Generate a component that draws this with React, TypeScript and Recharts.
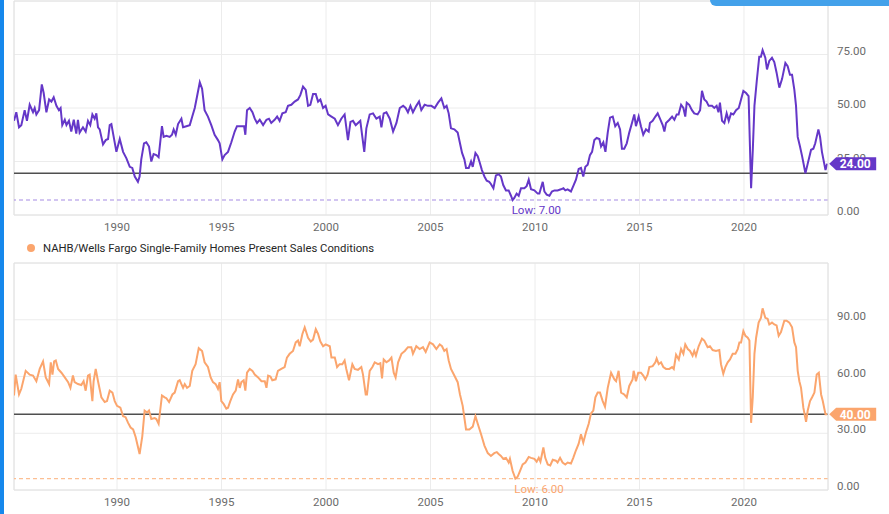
import { LineChart, Line, XAxis, YAxis, CartesianGrid, ReferenceLine, ReferenceDot } from "recharts";

// NAHB traffic-style index (top, purple) — decimal years and values
const purpleYears = [
  1985.07, 1985.18, 1985.31, 1985.42, 1985.58, 1985.69, 1985.82, 1985.98, 1986.06, 1986.14, 1986.27, 1986.4, 1986.49,
  1986.62, 1986.75, 1986.86, 1986.97, 1987.1, 1987.22, 1987.3, 1987.38, 1987.5, 1987.58, 1987.7, 1987.81, 1987.93,
  1988.05, 1988.13, 1988.21, 1988.37, 1988.5, 1988.61, 1988.72, 1988.82, 1988.93, 1989.01, 1989.09, 1989.17, 1989.33,
  1989.46, 1989.57, 1989.65, 1989.73, 1989.84, 1989.97, 1990.13, 1990.29, 1990.45, 1990.61, 1990.73, 1990.85, 1991.0,
  1991.08, 1991.16, 1991.29, 1991.4, 1991.53, 1991.64, 1991.75, 1991.88, 1991.99, 1992.15, 1992.23, 1992.36, 1992.52,
  1992.63, 1992.71, 1992.81, 1992.92, 1993.08, 1993.16, 1993.32, 1993.48, 1993.6, 1993.72, 1993.83, 1993.96, 1994.07,
  1994.19, 1994.35, 1994.51, 1994.67, 1994.83, 1994.91, 1995.04, 1995.15, 1995.31, 1995.47, 1995.63, 1995.74, 1995.87,
  1996.08, 1996.14, 1996.22, 1996.35, 1996.48, 1996.59, 1996.7, 1996.83, 1996.99, 1997.15, 1997.27, 1997.38, 1997.54,
  1997.66, 1997.78, 1997.91, 1998.07, 1998.18, 1998.34, 1998.5, 1998.66, 1998.77, 1998.9, 1999.03, 1999.14, 1999.25,
  1999.38, 1999.51, 1999.62, 1999.73, 1999.86, 1999.98, 2000.1, 2000.26, 2000.42, 2000.57, 2000.73, 2000.89, 2001.05,
  2001.17, 2001.29, 2001.42, 2001.53, 2001.64, 2001.83, 2001.93, 2002.09, 2002.25, 2002.41, 2002.57, 2002.65, 2002.76,
  2002.89, 2003.05, 2003.21, 2003.37, 2003.53, 2003.69, 2003.81, 2003.92, 2004.04, 2004.16, 2004.32, 2004.45, 2004.56,
  2004.72, 2004.88, 2005.04, 2005.2, 2005.36, 2005.52, 2005.66, 2005.77, 2005.87, 2005.98, 2006.14, 2006.3, 2006.41,
  2006.51, 2006.62, 2006.7, 2006.83, 2006.94, 2007.02, 2007.15, 2007.26, 2007.34, 2007.46, 2007.58, 2007.69, 2007.81,
  2007.89, 2008.01, 2008.13, 2008.26, 2008.37, 2008.48, 2008.61, 2008.74, 2008.85, 2008.93, 2009.01, 2009.12, 2009.22,
  2009.33, 2009.49, 2009.6, 2009.7, 2009.81, 2009.97, 2010.13, 2010.21, 2010.37, 2010.45, 2010.56, 2010.69, 2010.81,
  2010.93, 2011.08, 2011.24, 2011.36, 2011.45, 2011.56, 2011.72, 2011.83, 2011.96, 2012.09, 2012.2, 2012.31, 2012.41,
  2012.52, 2012.63, 2012.73, 2012.84, 2012.95, 2013.08, 2013.16, 2013.27, 2013.37, 2013.48, 2013.59, 2013.72, 2013.84,
  2013.96, 2014.07, 2014.16, 2014.27, 2014.39, 2014.51, 2014.64, 2014.75, 2014.83, 2014.96, 2015.07, 2015.18, 2015.31,
  2015.44, 2015.5, 2015.63, 2015.76, 2015.87, 2015.98, 2016.11, 2016.19, 2016.27, 2016.43, 2016.56, 2016.67, 2016.78,
  2016.87, 2016.99, 2017.1, 2017.19, 2017.26, 2017.38, 2017.51, 2017.62, 2017.78, 2017.9, 2017.99, 2018.1, 2018.21,
  2018.31, 2018.47, 2018.58, 2018.69, 2018.78, 2018.85, 2018.95, 2019.06, 2019.17, 2019.27, 2019.38, 2019.49, 2019.62,
  2019.75, 2019.86, 2019.97, 2020.1, 2020.22, 2020.34, 2020.42, 2020.5, 2020.61, 2020.73, 2020.81, 2020.89, 2021.02,
  2021.1, 2021.21, 2021.34, 2021.45, 2021.56, 2021.69, 2021.82, 2021.98, 2022.09, 2022.2, 2022.3, 2022.41, 2022.49,
  2022.57, 2022.68, 2022.78, 2022.94, 2023.05, 2023.21, 2023.32, 2023.41, 2023.56, 2023.64, 2023.73, 2023.84, 2023.9,
  2023.98,
];
const purpleValues = [
  44, 48, 41, 42, 49, 44, 51.5, 48, 50, 47, 49, 61, 57,
  48, 54, 53, 55, 51, 49, 50, 42, 44.5, 42, 44, 39, 44.5,
  38, 44.5, 38.5, 41, 39, 44, 42, 47, 45, 47.5, 41, 40, 33,
  35, 35.5, 42, 42.5, 36.5, 29.5, 35.5, 29.5, 26.5, 22.5, 22, 18, 15.5,
  18, 26, 33.5, 34, 32, 25, 28.5, 28, 27, 41.5, 36.5, 37, 36.5,
  37.5, 40, 37.5, 42.5, 45, 41, 41.5, 42, 46, 50, 55.5, 62, 59,
  49, 46, 42, 37.5, 35, 33.5, 26, 28, 29.5, 34, 39, 41.5, 41.5,
  41.5, 37.5, 49, 50, 48, 45, 43, 44.5, 42, 44.5, 45, 43, 44.5,
  46, 44, 47.5, 48, 51, 51.5, 53, 54, 56, 60, 58.5, 51, 51.5,
  56.5, 56.5, 53, 54, 50, 51, 47, 46, 45, 42, 45, 47, 35,
  43.5, 44, 42, 43, 44, 29.5, 40.5, 47, 47.5, 45, 46, 41, 47.5,
  48, 45, 39, 43, 50, 51, 50, 48, 51, 48, 51, 53, 49,
  51.5, 51, 51, 50, 52.5, 54.5, 50, 51, 47.5, 40.5, 40, 38.5, 33.5,
  29, 26, 22, 22, 25, 22.5, 29, 27.5, 25, 21, 18, 16, 15.5,
  14.5, 12.5, 18.5, 19, 18, 14, 11.5, 11.5, 9, 7, 8, 10, 9,
  12.5, 12.5, 13.5, 16.5, 12, 11.5, 10, 10, 15.5, 11, 9.5, 9, 11,
  11.5, 11.5, 12, 12.5, 11.5, 12, 11, 13.5, 16.5, 21.5, 22, 18, 22.5,
  23.5, 28, 29.5, 35, 36, 35.5, 32, 34, 29.5, 38.5, 45.5, 46, 41.5,
  43, 40, 31, 31, 33.5, 38.5, 43, 47, 41.5, 46, 41.5, 37.5, 40,
  39, 43, 44, 46, 47.5, 45, 42, 39, 43, 44.5, 46, 44.5, 47,
  47, 51.5, 50, 46, 52.5, 51.5, 49, 47.5, 47, 49, 58, 54, 53,
  51, 51, 50, 51, 48, 52.5, 44, 43, 47.5, 44, 47.5, 47, 49,
  50, 54, 58, 57, 55.5, 12.5, 30, 51, 62.5, 74, 74, 77, 73.5,
  68, 72, 73.5, 71.5, 66.5, 59.5, 63.5, 71, 69.5, 65.5, 65.5, 58.5, 51,
  36.5, 32, 27.5, 19.5, 24, 30.5, 31, 33.5, 40, 36.5, 29.5, 24, 21,
  24,
];

// NAHB/Wells Fargo Single-Family Homes Present Sales Conditions (bottom, orange)
const orangeYears = [
  1985.07, 1985.15, 1985.31, 1985.42, 1985.63, 1985.82, 1985.98, 1986.14, 1986.3, 1986.46, 1986.59, 1986.75, 1986.83,
  1986.91, 1986.99, 1987.07, 1987.18, 1987.34, 1987.5, 1987.66, 1987.77, 1987.89, 1987.97, 1988.13, 1988.29, 1988.4,
  1988.5, 1988.61, 1988.69, 1988.82, 1988.88, 1988.98, 1989.09, 1989.25, 1989.41, 1989.52, 1989.65, 1989.78, 1989.89,
  1990.0, 1990.16, 1990.29, 1990.41, 1990.53, 1990.65, 1990.77, 1990.89, 1991.08, 1991.21, 1991.32, 1991.44, 1991.53,
  1991.64, 1991.8, 1991.88, 1991.99, 1992.15, 1992.28, 1992.36, 1992.49, 1992.65, 1992.76, 1992.92, 1993.0, 1993.08,
  1993.16, 1993.24, 1993.35, 1993.48, 1993.6, 1993.76, 1993.91, 1994.07, 1994.19, 1994.35, 1994.48, 1994.59, 1994.72,
  1994.83, 1994.91, 1994.99, 1995.1, 1995.23, 1995.31, 1995.42, 1995.55, 1995.68, 1995.79, 1995.87, 1995.95, 1996.06,
  1996.14, 1996.22, 1996.35, 1996.48, 1996.59, 1996.75, 1996.91, 1997.07, 1997.15, 1997.23, 1997.34, 1997.43, 1997.59,
  1997.7, 1997.86, 1998.02, 1998.13, 1998.26, 1998.42, 1998.55, 1998.66, 1998.74, 1998.87, 1998.98, 1999.14, 1999.27,
  1999.38, 1999.51, 1999.62, 1999.73, 1999.86, 1999.98, 2000.18, 2000.26, 2000.42, 2000.53, 2000.65, 2000.78, 2000.89,
  2000.97, 2001.1, 2001.26, 2001.37, 2001.53, 2001.69, 2001.77, 2001.9, 2001.96, 2002.09, 2002.22, 2002.33, 2002.49,
  2002.6, 2002.68, 2002.76, 2002.89, 2003.02, 2003.13, 2003.24, 2003.33, 2003.45, 2003.61, 2003.77, 2003.92, 2004.08,
  2004.16, 2004.32, 2004.48, 2004.64, 2004.77, 2004.96, 2005.12, 2005.28, 2005.44, 2005.55, 2005.66, 2005.77, 2005.87,
  2005.98, 2006.14, 2006.3, 2006.41, 2006.54, 2006.7, 2006.86, 2007.02, 2007.15, 2007.26, 2007.42, 2007.58, 2007.74,
  2007.89, 2008.05, 2008.17, 2008.26, 2008.37, 2008.48, 2008.61, 2008.74, 2008.8, 2008.93, 2009.06, 2009.17, 2009.28,
  2009.41, 2009.54, 2009.7, 2009.81, 2009.97, 2010.08, 2010.18, 2010.26, 2010.4, 2010.49, 2010.61, 2010.73, 2010.85,
  2011.0, 2011.08, 2011.2, 2011.32, 2011.45, 2011.56, 2011.72, 2011.83, 2011.96, 2012.09, 2012.2, 2012.31, 2012.44,
  2012.57, 2012.68, 2012.79, 2012.89, 2013.0, 2013.11, 2013.24, 2013.35, 2013.48, 2013.64, 2013.8, 2013.88, 2014.0,
  2014.12, 2014.27, 2014.39, 2014.51, 2014.67, 2014.72, 2014.83, 2014.94, 2015.07, 2015.18, 2015.28, 2015.39, 2015.47,
  2015.63, 2015.76, 2015.82, 2015.92, 2016.03, 2016.14, 2016.27, 2016.43, 2016.56, 2016.64, 2016.75, 2016.88, 2016.99,
  2017.1, 2017.19, 2017.31, 2017.42, 2017.54, 2017.62, 2017.7, 2017.83, 2017.99, 2018.1, 2018.26, 2018.37, 2018.5,
  2018.66, 2018.82, 2018.9, 2019.01, 2019.11, 2019.22, 2019.33, 2019.46, 2019.59, 2019.7, 2019.78, 2019.86, 2019.97,
  2020.07, 2020.18, 2020.26, 2020.34, 2020.42, 2020.5, 2020.58, 2020.7, 2020.81, 2020.89, 2021.02, 2021.13, 2021.21,
  2021.34, 2021.45, 2021.56, 2021.66, 2021.77, 2021.93, 2022.04, 2022.17, 2022.3, 2022.41, 2022.49, 2022.57, 2022.65,
  2022.73, 2022.84, 2022.97, 2023.05, 2023.16, 2023.26, 2023.37, 2023.48, 2023.58, 2023.69, 2023.77, 2023.9, 2023.98,
];
const orangeValues = [
  50, 61, 50.5, 53.5, 63, 61, 60.5, 57.5, 64, 68, 59.5, 56, 67.5,
  61, 68, 68.5, 64, 62, 59.5, 57, 54, 60.5, 57, 56, 55.5, 57.5,
  52.5, 60.5, 61, 47, 57.5, 64, 57.5, 49, 46.5, 47, 52.5, 51.5, 47,
  44.5, 43.5, 39, 38.5, 35.5, 33, 32, 28, 19, 28.5, 42, 41, 42,
  37.5, 38, 37.5, 35, 50, 49, 48.5, 46.5, 50.5, 51.5, 57.5, 58, 56,
  54, 56, 54, 55, 63, 66.5, 75, 73.5, 67.5, 65, 59.5, 57, 56,
  53.5, 57, 47, 45.5, 43, 43.5, 47, 50.5, 52.5, 58.5, 54, 57, 58,
  52.5, 62, 64, 63, 61, 59.5, 57.5, 57.5, 54, 60.5, 60, 58, 58.5,
  63, 64, 65, 70, 72, 73.5, 78, 79, 76, 82.5, 86, 80.5, 78.5,
  79.5, 85, 82.5, 78.5, 76, 77, 76, 70, 70, 65, 66.5, 66.5, 68.5,
  64, 58, 66.5, 64, 63.5, 65, 61, 50.5, 50.5, 63, 65, 67.5, 66.5,
  67, 59, 69, 67.5, 68.5, 70, 62, 59.5, 67.5, 72, 73.5, 75.5, 75.5,
  72, 76, 74.5, 75.5, 73, 78, 77, 74.5, 77, 76, 73.5, 74.5, 68.5,
  64, 60.5, 57, 50.5, 44.5, 32, 32, 33.5, 39, 35, 29.5, 23.5, 19.5,
  18, 19.5, 20, 19, 18, 16.5, 17, 14.5, 16.5, 10, 6, 7, 10,
  13.5, 14.5, 17.5, 17, 16.5, 15, 17, 15, 22.5, 17, 13.5, 13, 16,
  15.5, 14.5, 17, 14.5, 13.5, 14.5, 14, 17, 21, 24.5, 29.5, 25, 30.5,
  35, 40.5, 42, 49, 51.5, 51.5, 47, 44, 54, 62, 58.5, 57.5, 63,
  51.5, 50.5, 49, 55, 58.5, 63, 57.5, 62, 62, 60.5, 58.5, 61, 65,
  65.5, 67.5, 69.5, 66.5, 67.5, 65, 64, 64, 65, 64, 71.5, 69, 74.5,
  72, 77, 74.5, 73.5, 71, 73.5, 71, 76, 80, 79, 75.5, 76, 74,
  73.5, 74, 66.5, 61.5, 65, 67.5, 69, 72, 72, 74.5, 78, 78, 84,
  81.5, 80.5, 79, 35.5, 49, 72, 80.5, 88.5, 91, 96, 91, 90.5, 87.5,
  88.5, 87.5, 87, 81.5, 83.5, 89.5, 89.5, 88.5, 86, 78, 75.5, 63, 57.5,
  54, 43.5, 36, 42, 47, 49, 51.5, 61, 62, 50.5, 47, 40, 40,
];

const xTicks = [1990, 1995, 2000, 2005, 2010, 2015, 2020];
const topTicks = [0, 25, 50, 75];
const bottomTicks = [0, 30, 60, 90];
const topLevel = 19.5;
const bottomLevel = 40;
const legendLabel = "NAHB/Wells Fargo Single-Family Homes Present Sales Conditions";

const X_DOMAIN: [number, number] = [1985.07, 2024.02];
const PURPLE = "#6537c8";
const ORANGE = "#fba56d";
const GRID = "#ececec";
const FONT = "Roboto, 'Noto Sans', sans-serif";
const MARGIN = { top: 1, right: 0, bottom: 0, left: 14 };

type Point = { year: number; value: number };

function toRows(years: number[], values: number[]): Point[] {
  return years.map((year, i) => ({ year, value: values[i] }));
}

function lowPoint(years: number[], values: number[]): Point {
  let idx = 0;
  values.forEach((v, i) => {
    if (v < values[idx]) idx = i;
  });
  return { year: years[idx], value: values[idx] };
}

const RightTick = (props: any) => {
  const { x, y, payload } = props;
  return (
    <text x={x} y={y - 4} dy="0.355em" fill="#6b6b6b" fontSize={11.5} fontFamily={FONT}>
      {Number(payload.value).toFixed(2)}
    </text>
  );
};

const BottomTick = (props: any) => {
  const { x, y, payload } = props;
  return (
    <text x={x} y={y} dy="0.71em" fill="#6b6b6b" fontSize={11.5} fontFamily={FONT} textAnchor="middle">
      {payload.value}
    </text>
  );
};

function badgeShape(color: string, label: string) {
  return (props: any) => {
    const { cx, cy } = props;
    const tip = cx + 2;
    const left = tip + 7;
    const right = tip + 47;
    return (
      <g>
        <polygon
          points={`${tip},${cy} ${left},${cy - 6.5} ${right},${cy - 6.5} ${right},${cy + 6.5} ${left},${cy + 6.5}`}
          fill={color}
        />
        <text
          x={(left + right) / 2 - 1}
          y={cy}
          dy="0.36em"
          textAnchor="middle"
          fill="#fff"
          fontWeight={700}
          fontSize={12}
          fontFamily={FONT}
        >
          {label}
        </text>
      </g>
    );
  };
}

function lowShape(color: string, label: string) {
  return (props: any) => {
    const { cx, cy } = props;
    return (
      <text x={cx - 1} y={cy + 10} dy="0.355em" fill={color} fontSize={11.5} fontFamily={FONT}>
        {label}
      </text>
    );
  };
}

type PanelProps = {
  rows: Point[];
  color: string;
  lowColor: string;
  lowText: string;
  height: number;
  yMax: number;
  ticks: number[];
  level: number;
  low: Point;
};

function Panel({ rows, color, lowColor, lowText, height, yMax, ticks, level, low }: PanelProps) {
  return (
    <LineChart width={889} height={height} data={rows} margin={MARGIN}>
      <CartesianGrid stroke={GRID} strokeWidth={1} />
      <XAxis
        dataKey="year"
        type="number"
        domain={X_DOMAIN}
        ticks={xTicks}
        allowDataOverflow
        height={25}
        tickLine={false}
        axisLine={{ stroke: "#e2e2e2" }}
        tickSize={6}
        tickMargin={2}
        tick={<BottomTick />}
      />
      <YAxis
        orientation="right"
        type="number"
        domain={[0, yMax]}
        ticks={ticks}
        width={61}
        tickLine={false}
        axisLine={{ stroke: "#e2e2e2" }}
        tickSize={6}
        tickMargin={3}
        tick={<RightTick />}
      />
      <ReferenceLine x={X_DOMAIN[0]} stroke="#e2e2e2" />
      <ReferenceLine y={yMax} stroke="#e2e2e2" />
      <ReferenceLine y={low.value} stroke={lowColor} strokeDasharray="4 3" strokeWidth={1.2} />
      <ReferenceLine y={level} stroke="#4f4f4f" strokeWidth={1.5} />
      <Line type="linear" dataKey="value" stroke={color} strokeWidth={2} dot={false} isAnimationActive={false} />
      <ReferenceDot x={low.year} y={low.value} r={0} ifOverflow="visible" shape={lowShape(color, lowText)} />
    </LineChart>
  );
}

// same scales as the panel underneath, drawn on top so the badge covers the axis label
function BadgeOverlay({ rows, color, height, yMax, last }: { rows: Point[]; color: string; height: number; yMax: number; last: Point }) {
  return (
    <LineChart width={889} height={height} data={rows} margin={MARGIN}>
      <XAxis dataKey="year" type="number" domain={X_DOMAIN} allowDataOverflow height={25} tick={false} axisLine={false} tickLine={false} />
      <YAxis orientation="right" type="number" domain={[0, yMax]} width={61} tick={false} axisLine={false} tickLine={false} />
      <Line type="linear" dataKey="value" stroke="none" dot={false} activeDot={false} isAnimationActive={false} />
      <ReferenceDot
        x={last.year}
        y={last.value}
        r={0}
        ifOverflow="visible"
        shape={badgeShape(color, last.value.toFixed(2))}
      />
    </LineChart>
  );
}

export default function App() {
  const purpleRows = toRows(purpleYears, purpleValues);
  const orangeRows = toRows(orangeYears, orangeValues);
  const purpleLow = lowPoint(purpleYears, purpleValues);
  const orangeLow = lowPoint(orangeYears, orangeValues);
  const purpleLast = purpleRows[purpleRows.length - 1];
  const orangeLast = orangeRows[orangeRows.length - 1];

  return (
    <div
      style={{
        position: "absolute",
        left: 0,
        top: 0,
        width: 889,
        height: 514,
        overflow: "hidden",
        background: "#fff",
        fontFamily: FONT,
      }}
    >
      <div style={{ position: "absolute", left: 0, top: 0 }}>
        <Panel
          rows={purpleRows}
          color={PURPLE}
          lowColor="#a58be3"
          lowText={`Low: ${purpleLow.value.toFixed(2)}`}
          height={240}
          yMax={100}
          ticks={topTicks}
          level={topLevel}
          low={purpleLow}
        />
      </div>
      <div style={{ position: "absolute", left: 0, top: 0 }}>
        <BadgeOverlay rows={purpleRows} color={PURPLE} height={240} yMax={100} last={purpleLast} />
      </div>
      <div
        style={{
          position: "absolute",
          left: 27,
          top: 240,
          height: 16,
          display: "flex",
          alignItems: "center",
          fontSize: 11.3,
          color: "#262626",
          whiteSpace: "nowrap",
        }}
      >
        <span
          style={{ width: 8, height: 8, borderRadius: 4, background: ORANGE, display: "inline-block", marginRight: 8 }}
        />
        {legendLabel}
      </div>
      <div style={{ position: "absolute", left: 0, top: 262 }}>
        <Panel
          rows={orangeRows}
          color={ORANGE}
          lowColor="#fcbf93"
          lowText={`Low: ${orangeLow.value.toFixed(2)}`}
          height={253}
          yMax={120}
          ticks={bottomTicks}
          level={bottomLevel}
          low={orangeLow}
        />
      </div>
      <div style={{ position: "absolute", left: 0, top: 262 }}>
        <BadgeOverlay rows={orangeRows} color={ORANGE} height={253} yMax={120} last={orangeLast} />
      </div>
      <div style={{ position: "absolute", left: 0, top: 0, width: 4, height: 514, background: "#1688ec" }} />
      <div
        style={{
          position: "absolute",
          left: 710,
          top: 0,
          width: 179,
          height: 6,
          background: "#43a1ea",
          borderBottomLeftRadius: 8,
        }}
      />
    </div>
  );
}
